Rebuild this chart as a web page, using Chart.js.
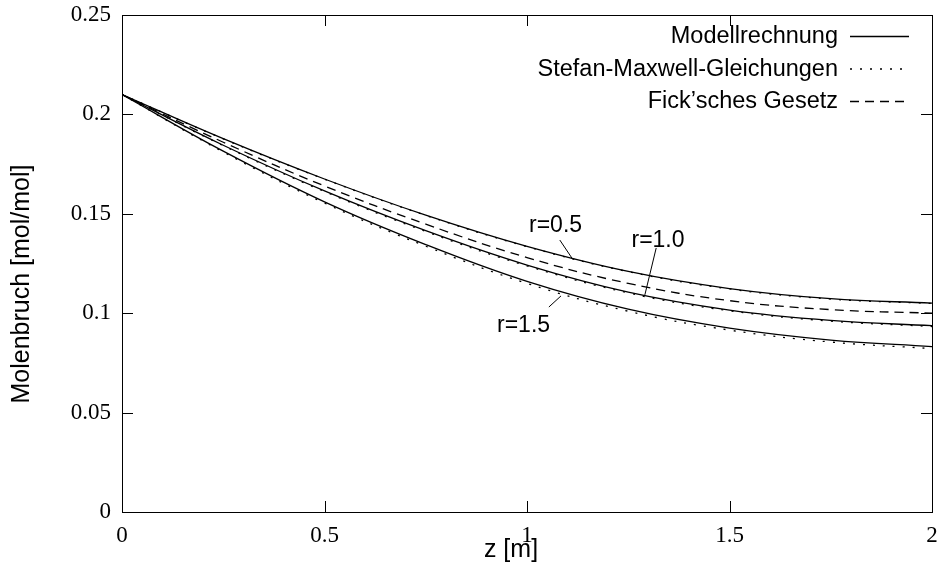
<!DOCTYPE html>
<html><head><meta charset="utf-8">
<script src="https://cdn.jsdelivr.net/npm/chart.js@4/dist/chart.umd.min.js"></script>
<style>html,body{margin:0;padding:0;background:#fff}</style>
</head><body>
<canvas id="c" width="937" height="569"></canvas>
<script>
// ---- data ----
const zValues   = [0, 0.25, 0.5, 0.75, 1, 1.25, 1.5, 1.75, 2];
const modellR05 = [0.210, 0.1878, 0.1675, 0.1493, 0.1336, 0.1210, 0.1124, 0.1073, 0.1051];
const smR05     = [0.210, 0.1877, 0.1674, 0.1492, 0.1335, 0.1209, 0.1122, 0.1071, 0.1049];
const fickAll   = [0.210, 0.1860, 0.1640, 0.1448, 0.1280, 0.1150, 0.1063, 0.1018, 0.1000];
const modellR10 = [0.210, 0.1845, 0.1615, 0.1415, 0.1242, 0.1106, 0.1016, 0.0964, 0.0937];
const smR10     = [0.210, 0.1843, 0.1612, 0.1411, 0.1238, 0.1102, 0.1012, 0.0960, 0.0933];
const modellR15 = [0.210, 0.1815, 0.1560, 0.1345, 0.1160, 0.1020, 0.0925, 0.0865, 0.0832];
const smR15     = [0.210, 0.1811, 0.1554, 0.1337, 0.1150, 0.1010, 0.0915, 0.0855, 0.0822];
const xTickValues = [0, 0.5, 1, 1.5, 2];
const xTickLabels = ['0', '0.5', '1', '1.5', '2'];
const yTickValues = [0, 0.05, 0.1, 0.15, 0.2, 0.25];
const yTickLabels = ['0', '0.05', '0.1', '0.15', '0.2', '0.25'];
const seriesNames = ['Modellrechnung', 'Stefan-Maxwell-Gleichungen', 'Fick\u2019sches Gesetz'];
const curveNames  = ['r=0.5', 'r=1.0', 'r=1.5'];
const xTitle = 'z [m]';
const yTitle = 'Molenbruch [mol/mol]';

const pts = arr => arr.map((v, i) => ({x: zValues[i], y: v}));
const SOLID = [], DOTTED = [2, 8], DASHED = [9, 6];
function ds(label, arr, dash, legend) {
  return {label, data: pts(arr), borderColor: '#000', borderWidth: 1.3, borderDash: dash,
    pointRadius: 0, fill: false, tension: 0.4, cubicInterpolationMode: 'default', legendRow: legend};
}
const datasets = [
  ds(seriesNames[1], smR05, DOTTED, -1),
  ds(seriesNames[1], smR10, DOTTED, -1),
  ds(seriesNames[1], smR15, DOTTED, 1),
  ds(seriesNames[2], fickAll, DASHED, 2),
  ds(seriesNames[0], modellR05, SOLID, 0),
  ds(seriesNames[0], modellR10, SOLID, -1),
  ds(seriesNames[0], modellR15, SOLID, -1)
];

// annotation placement (data coords)
const annot = [
  {text: curveNames[0], at: [1.005, 0.1440], from: [1.081, 0.1368], to: [1.113, 0.1271]},
  {text: curveNames[1], at: [1.258, 0.1363], from: [1.319, 0.1328], to: [1.291, 0.1092]},
  {text: curveNames[2], at: [0.926, 0.0936], from: [1.054, 0.1031], to: [1.084, 0.1087]}
];

const SANS = '"Liberation Sans", Arial, sans-serif';
const SERIF = '"Liberation Serif", "Times New Roman", serif';

const decor = {
  id: 'decor',
  afterDraw(chart) {
    const ctx = chart.ctx, a = chart.chartArea, xs = chart.scales.x, ys = chart.scales.y;
    ctx.save();
    ctx.strokeStyle = '#000'; ctx.lineWidth = 1; ctx.setLineDash([]);
    // frame
    ctx.strokeRect(Math.round(a.left) + 0.5, Math.round(a.top) + 0.5,
      Math.round(a.right - a.left), Math.round(a.bottom - a.top));
    const TL = 11;
    ctx.beginPath();
    xTickValues.forEach(v => {
      const px = Math.round(xs.getPixelForValue(v)) + 0.5;
      ctx.moveTo(px, a.bottom); ctx.lineTo(px, a.bottom - TL);
      ctx.moveTo(px, a.top); ctx.lineTo(px, a.top + TL);
    });
    yTickValues.forEach(v => {
      const py = Math.round(ys.getPixelForValue(v)) + 0.5;
      ctx.moveTo(a.left, py); ctx.lineTo(a.left + TL, py);
      ctx.moveTo(a.right, py); ctx.lineTo(a.right - TL, py);
    });
    ctx.stroke();
    // legend
    ctx.fillStyle = '#000';
    ctx.font = '23.5px ' + SANS;
    ctx.textAlign = 'right'; ctx.textBaseline = 'middle';
    const rowsY = [36, 68.5, 101];
    chart.data.datasets.forEach(d => {
      if (d.legendRow < 0) return;
      const y = rowsY[d.legendRow];
      ctx.fillText(d.label, 838, y + 1);
      ctx.setLineDash(d.borderDash);
      ctx.lineWidth = 1.3;
      ctx.beginPath(); ctx.moveTo(850, y + 0.5); ctx.lineTo(909, y + 0.5); ctx.stroke();
    });
    ctx.setLineDash([]);
    // curve annotations
    ctx.textAlign = 'left';
    ctx.font = '23px ' + SANS;
    annot.forEach(an => {
      ctx.fillText(an.text, xs.getPixelForValue(an.at[0]), ys.getPixelForValue(an.at[1]));
      ctx.lineWidth = 1;
      ctx.beginPath();
      ctx.moveTo(xs.getPixelForValue(an.from[0]), ys.getPixelForValue(an.from[1]));
      ctx.lineTo(xs.getPixelForValue(an.to[0]), ys.getPixelForValue(an.to[1]));
      ctx.stroke();
    });
    // axis titles
    ctx.textAlign = 'center';
    ctx.font = '25px ' + SANS;
    ctx.fillText(xTitle, 511, 550);
    ctx.save();
    ctx.translate(22, 284); ctx.rotate(-Math.PI / 2);
    ctx.fillText(yTitle, 0, 0);
    ctx.restore();
    ctx.restore();
  }
};

new Chart(document.getElementById('c'), {
  type: 'line',
  data: {datasets},
  options: {
    responsive: false, animation: false, devicePixelRatio: 1,
    layout: {padding: {left: 0, right: 5, top: 15, bottom: 0}},
    plugins: {legend: {display: false}, tooltip: {enabled: false}},
    scales: {
      x: {
        type: 'linear', min: 0, max: 2,
        afterBuildTicks: s => { s.ticks = xTickValues.map(v => ({value: v})); },
        afterFit: s => { s.height = 57; s.paddingLeft = 0; s.paddingRight = 0; },
        grid: {display: false, drawTicks: false}, border: {display: false},
        ticks: {padding: 10, color: '#000', font: {family: SERIF, size: 23},
          callback: (v) => xTickLabels[xTickValues.indexOf(v)] ?? ''}
      },
      y: {
        type: 'linear', min: 0, max: 0.25,
        afterBuildTicks: s => { s.ticks = yTickValues.map(v => ({value: v})); },
        afterFit: s => { s.width = 122; s.paddingTop = 0; s.paddingBottom = 0; },
        grid: {display: false, drawTicks: false}, border: {display: false},
        ticks: {padding: 11, color: '#000', font: {family: SERIF, size: 23},
          callback: (v) => yTickLabels[yTickValues.indexOf(v)] ?? ''}
      }
    }
  },
  plugins: [decor]
});
</script>
</body></html>
